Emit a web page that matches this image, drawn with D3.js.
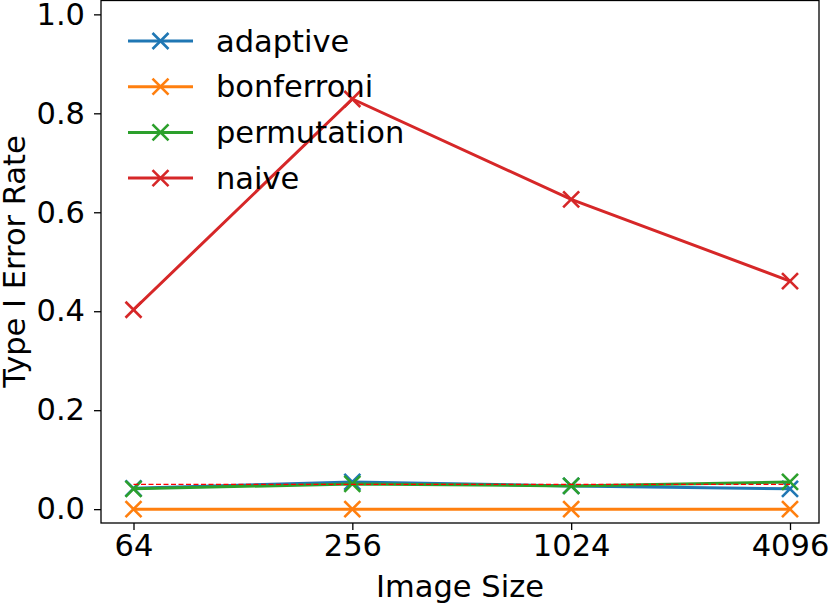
<!DOCTYPE html>
<html>
<head>
<meta charset="utf-8">
<script src="https://cdn.jsdelivr.net/npm/d3@7"></script>
<style>
  body { margin: 0; background: #fff; }
  text { font-family: "DejaVu Sans", sans-serif; fill: #000; }
</style>
</head>
<body>
<script>
// image sizes on the x axis
var sizes = [64, 256, 1024, 4096];
var xTicks = [64, 256, 1024, 4096];
var yTicks = [0.0, 0.2, 0.4, 0.6, 0.8, 1.0];

// type I error rate per method
var adaptive = [0.042, 0.055, 0.047, 0.041];
var bonferroni = [0.0, 0.0, 0.0, 0.0];
var permutation = [0.041, 0.051, 0.047, 0.055];
var naive = [0.403, 0.829, 0.626, 0.461];
var alpha = [0.05, 0.05, 0.05, 0.05];

var seriesNames = ["adaptive", "bonferroni", "permutation", "naive"];
var seriesColors = ["#1f77b4", "#ff7f0e", "#2ca02c", "#d62728"];
var seriesData = [adaptive, bonferroni, permutation, naive];

var fontSize = 30.5;
var svgOptions = { width: 830, height: 606 };
var plot = { left: 101, right: 819, top: 0.5, bottom: 523 };

var svg = d3.select("body").append("svg")
  .attr("width", svgOptions.width)
  .attr("height", svgOptions.height);

var x = d3.scaleLog().base(2)
  .domain([64, 4096])
  .range([133.5, 790]);

var y = d3.scaleLinear()
  .domain([-0.028, 1.028])
  .range([plot.bottom, plot.top]);

// axes
var xAxis = svg.append("g")
  .attr("transform", "translate(0," + plot.bottom + ")")
  .call(d3.axisBottom(x).tickValues(xTicks).tickFormat(d3.format("d")).tickSize(7).tickPadding(4));

var yAxis = svg.append("g")
  .attr("transform", "translate(" + plot.left + ",0)")
  .call(d3.axisLeft(y).tickValues(yTicks).tickFormat(d3.format(".1f")).tickSize(7).tickPadding(9));

[xAxis, yAxis].forEach(function (g) {
  g.select(".domain").remove();
  g.selectAll(".tick line").attr("stroke", "#000").attr("stroke-width", 1.3);
  g.selectAll(".tick text").attr("font-size", fontSize).attr("fill", "#000")
    .style("font-family", "DejaVu Sans");
});

var line = d3.line()
  .x(function (d, i) { return x(sizes[i]); })
  .y(function (d) { return y(d); });

var cross = function (g, cx, cy, color, r) {
  g.append("path")
    .attr("d", "M" + (cx - r) + "," + (cy - r) + "L" + (cx + r) + "," + (cy + r) +
               "M" + (cx - r) + "," + (cy + r) + "L" + (cx + r) + "," + (cy - r))
    .attr("stroke", color)
    .attr("stroke-width", 2.6)
    .attr("fill", "none");
};

seriesData.forEach(function (vals, k) {
  var g = svg.append("g");
  g.append("path")
    .datum(vals)
    .attr("d", line)
    .attr("fill", "none")
    .attr("stroke", seriesColors[k])
    .attr("stroke-width", 3);
  vals.forEach(function (v, i) {
    cross(g, x(sizes[i]), y(v), seriesColors[k], 8);
  });
});

// alpha reference line
svg.append("path")
  .datum(alpha)
  .attr("d", line)
  .attr("fill", "none")
  .attr("stroke", "red")
  .attr("stroke-width", 1.3)
  .attr("stroke-dasharray", "5,2.5");

// spines
svg.append("rect")
  .attr("x", plot.left)
  .attr("y", plot.top)
  .attr("width", plot.right - plot.left)
  .attr("height", plot.bottom - plot.top)
  .attr("fill", "none")
  .attr("stroke", "#000")
  .attr("stroke-width", 1.3);

// legend
var legend = svg.append("g");
seriesNames.forEach(function (name, k) {
  var ly = 41 + k * 45.7;
  legend.append("line")
    .attr("x1", 128).attr("x2", 193)
    .attr("y1", ly).attr("y2", ly)
    .attr("stroke", seriesColors[k])
    .attr("stroke-width", 3);
  cross(legend, 160.5, ly, seriesColors[k], 8);
  legend.append("text")
    .attr("x", 216)
    .attr("y", ly + 10.5)
    .attr("font-size", fontSize)
    .text(name);
});

// axis labels
svg.append("text")
  .attr("x", (plot.left + plot.right) / 2)
  .attr("y", 597)
  .attr("text-anchor", "middle")
  .attr("font-size", fontSize)
  .text("Image Size");

svg.append("text")
  .attr("transform", "translate(25," + (plot.bottom / 2) + ") rotate(-90)")
  .attr("text-anchor", "middle")
  .attr("font-size", fontSize)
  .text("Type I Error Rate");
</script>
</body>
</html>
